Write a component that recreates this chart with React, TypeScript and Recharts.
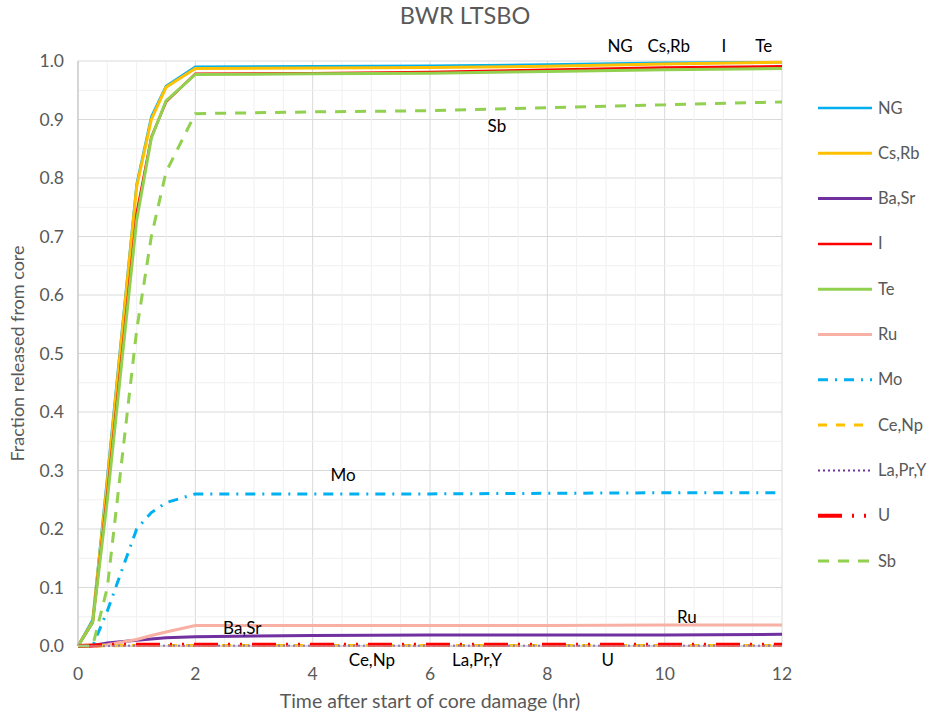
import React from 'react';
import { LineChart, Line, XAxis, YAxis, CartesianGrid, ReferenceLine, ReferenceDot } from 'recharts';

const times = [0, 0.25, 0.5, 1, 1.25, 1.5, 2, 4, 6, 8, 10, 12];
const ng = [0, 0.045, 0.29, 0.79, 0.905, 0.957, 0.99, 0.991, 0.992, 0.994, 0.997, 0.998];
const csrb = [0, 0.042, 0.28, 0.785, 0.9, 0.955, 0.987, 0.988, 0.989, 0.991, 0.995, 0.998];
const basr = [0, 0.001, 0.005, 0.01, 0.012, 0.014, 0.016, 0.018, 0.019, 0.019, 0.019, 0.02];
const iod = [0, 0.04, 0.26, 0.74, 0.87, 0.93, 0.978, 0.979, 0.981, 0.985, 0.989, 0.991];
const te = [0, 0.04, 0.25, 0.728, 0.868, 0.932, 0.977, 0.978, 0.979, 0.982, 0.985, 0.987];
const ru = [0, 0, 0.002, 0.011, 0.018, 0.024, 0.035, 0.035, 0.035, 0.035, 0.036, 0.036];
const mo = [0, 0.0, 0.06, 0.2, 0.228, 0.245, 0.26, 0.26, 0.26, 0.261, 0.262, 0.262];
const cenp = [0, 0, 0.0005, 0.001, 0.001, 0.001, 0.001, 0.001, 0.001, 0.001, 0.001, 0.001];
const lapry = [0, 0, 0.0002, 0.0003, 0.0003, 0.0003, 0.0003, 0.0003, 0.0003, 0.0003, 0.0003, 0.0003];
const u = [0, 0.001, 0.002, 0.002, 0.002, 0.002, 0.002, 0.002, 0.002, 0.002, 0.002, 0.002];
const sb = [0, 0, 0.1, 0.54, 0.7, 0.81, 0.91, 0.913, 0.915, 0.92, 0.925, 0.93];

const xTicks = [0, 2, 4, 6, 8, 10, 12];
const yTicks = [0, 0.1, 0.2, 0.3, 0.4, 0.5, 0.6, 0.7, 0.8, 0.9, 1.0];
const xMinor = [0.5, 1, 1.5, 2.5, 3, 3.5, 4.5, 5, 5.5, 6.5, 7, 7.5, 8.5, 9, 9.5, 10.5, 11, 11.5];
const yMinor = [0.05, 0.15, 0.25, 0.35, 0.45, 0.55, 0.65, 0.75, 0.85, 0.95];

const seriesNames = ['NG', 'Cs,Rb', 'Ba,Sr', 'I', 'Te', 'Ru', 'Mo', 'Ce,Np', 'La,Pr,Y', 'U', 'Sb'];
const seriesValues = [ng, csrb, basr, iod, te, ru, mo, cenp, lapry, u, sb];

const styles: Record<string, { color: string; width: number; dash?: string }> = {
  'NG': { color: '#00b0f0', width: 2.5 },
  'Cs,Rb': { color: '#ffc000', width: 3 },
  'Ba,Sr': { color: '#7030a0', width: 3 },
  'I': { color: '#ff0000', width: 2.5 },
  'Te': { color: '#92d050', width: 3 },
  'Ru': { color: '#f8b0a4', width: 3 },
  'Mo': { color: '#00b0f0', width: 3, dash: '10 7 2 7' },
  'Ce,Np': { color: '#ffc000', width: 3, dash: '9 9' },
  'La,Pr,Y': { color: '#7030a0', width: 2, dash: '2 3' },
  'U': { color: '#ff0000', width: 4, dash: '24 10 2 10 2 10' },
  'Sb': { color: '#92d050', width: 3, dash: '11 9' },
};

const inPlotLabels = [
  { text: 'NG', x: 9.24, y: 1.026 },
  { text: 'Cs,Rb', x: 10.07, y: 1.026 },
  { text: 'I', x: 11.01, y: 1.026 },
  { text: 'Te', x: 11.69, y: 1.026 },
  { text: 'Sb', x: 7.14, y: 0.889 },
  { text: 'Mo', x: 4.52, y: 0.292 },
  { text: 'Ba,Sr', x: 2.8, y: 0.031 },
  { text: 'Ru', x: 10.38, y: 0.05 },
  { text: 'Ce,Np', x: 5.01, y: -0.024 },
  { text: 'La,Pr,Y', x: 6.8, y: -0.024 },
  { text: 'U', x: 9.03, y: -0.024 },
];

const data = times.map((t, i) => {
  const row: Record<string, number> = { t };
  seriesNames.forEach((n, k) => { row[n] = seriesValues[k][i]; });
  return row;
});

const FONT = 'Lato, Carlito, "Open Sans", sans-serif';

const LegendBox = () => (
  <svg width={112} height={500} style={{ position: 'absolute', left: 818, top: 95 }}>
    {seriesNames.map((n, i) => {
      const s = styles[n];
      const y = 13 + i * 45.3;
      return (
        <g key={n}>
          <line x1={0} x2={54} y1={y} y2={y} stroke={s.color} strokeWidth={s.width} strokeDasharray={s.dash} />
          <text x={60} y={y + 5.5} fontSize={16.5} fill="#595959" fontFamily={FONT}>{n}</text>
        </g>
      );
    })}
  </svg>
);

export default function App() {
  return (
    <div style={{ position: 'absolute', left: 0, top: 0, width: 930, height: 715, background: '#fff', fontFamily: FONT }}>
      <div style={{ position: 'absolute', left: 0, width: 930, top: 1, textAlign: 'center', fontSize: 23.5, color: '#595959' }}>BWR LTSBO</div>
      <LineChart width={930} height={715} data={data} margin={{ top: 61, right: 148, bottom: 7, left: 18 }}>
        {xMinor.map((v) => (
          <ReferenceLine key={'xm' + v} x={v} stroke="#f0f0f0" strokeWidth={1} />
        ))}
        {yMinor.map((v) => (
          <ReferenceLine key={'ym' + v} y={v} stroke="#f0f0f0" strokeWidth={1} />
        ))}
        <CartesianGrid stroke="#d9d9d9" strokeWidth={1} />
        <XAxis
          dataKey="t"
          type="number"
          domain={[0, 12]}
          ticks={xTicks}
          height={62}
          stroke="#bfbfbf"
          tickLine={false}
          tick={{ fill: '#595959', fontSize: 17.5, fontFamily: FONT }}
          tickMargin={16}
          label={{ value: 'Time after start of core damage (hr)', position: 'insideBottom', offset: 0, fill: '#595959', fontSize: 19.5, fontFamily: FONT }}
        />
        <YAxis
          type="number"
          domain={[0, 1]}
          ticks={yTicks}
          width={60}
          stroke="#bfbfbf"
          tickLine={false}
          tickFormatter={(v: number) => v.toFixed(1)}
          tick={{ fill: '#595959', fontSize: 17.5, fontFamily: FONT }}
          tickMargin={8}
          label={{ value: 'Fraction released from core', angle: -90, position: 'insideLeft', offset: 0, fill: '#595959', fontSize: 18, fontFamily: FONT, style: { textAnchor: 'middle' } }}
        />
        {seriesNames.map((n) => {
          const s = styles[n];
          return (
            <Line
              key={n}
              type="linear"
              dataKey={n}
              stroke={s.color}
              strokeWidth={s.width}
              strokeDasharray={s.dash}
              dot={false}
              isAnimationActive={false}
            />
          );
        })}
        {inPlotLabels.map((l) => (
          <ReferenceDot
            key={l.text}
            x={l.x}
            y={l.y}
            r={0}
            ifOverflow="visible"
            stroke="none"
            fill="none"
            label={{ value: l.text, position: 'center', fill: '#000', fontSize: 17, fontFamily: FONT }}
          />
        ))}
      </LineChart>
      <LegendBox />
    </div>
  );
}
